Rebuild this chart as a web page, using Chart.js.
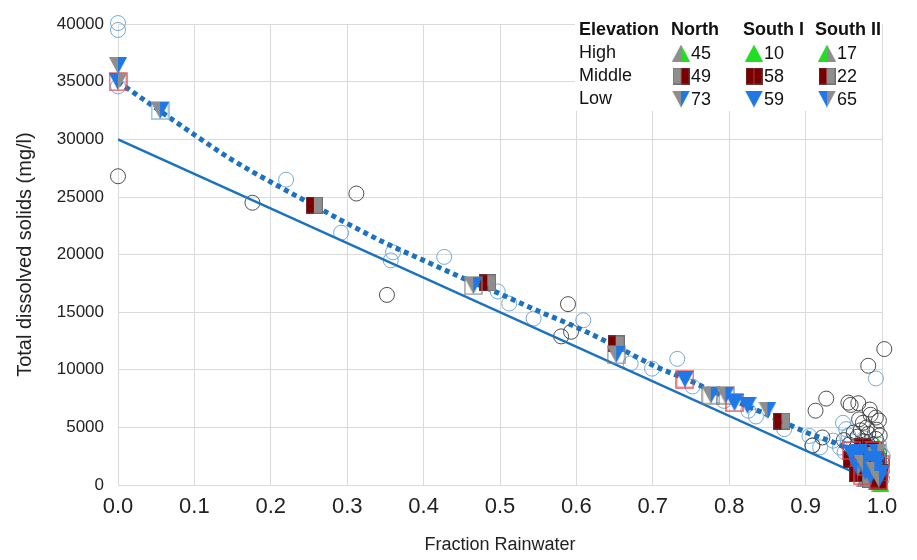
<!DOCTYPE html>
<html>
<head>
<meta charset="utf-8">
<script src="https://cdn.jsdelivr.net/npm/chart.js@4.4.1/dist/chart.umd.min.js"></script>
<style>
  html, body { margin: 0; padding: 0; background: #fff; }
</style>
</head>
<body>
<canvas id="grafico" width="917" height="560"></canvas>
<script>
// axis ticks
const xTicks = [0, 0.1, 0.2, 0.3, 0.4, 0.5, 0.6, 0.7, 0.8, 0.9, 1.0];
const yTicks = [0, 5000, 10000, 15000, 20000, 25000, 30000, 35000, 40000];

// mixing lines
const lineX = [0, 1];
const lineY = [30000, 0];
const curveX = [0, 0.05, 0.1, 0.15, 0.2, 0.25, 0.3, 0.35, 0.4, 0.45, 0.5, 0.55, 0.6, 0.65, 0.7, 0.75, 0.8, 0.85, 0.9, 0.95, 0.98, 1.0];
const curveY = [35000, 32700, 30400, 28200, 26300, 24500, 22700, 21000, 19500, 18000, 16600, 15100, 13700, 12100, 10400, 9000, 7500, 6100, 4600, 3300, 2000, 300];

// open circles
const blueCircleX = [0.0, 0.0, 0.0, 0.22, 0.292, 0.357, 0.36, 0.427, 0.497, 0.512, 0.544, 0.609, 0.671, 0.699, 0.732, 0.752, 0.793, 0.825, 0.835, 0.872, 0.905, 0.909, 0.919, 0.936, 0.945, 0.949, 0.953, 0.951, 0.956, 0.96, 0.962, 0.966, 0.968, 0.971, 0.973, 0.975, 0.977, 0.979, 0.981, 0.983, 0.985, 0.987, 0.988, 0.99, 0.992, 0.992, 0.994, 0.995, 0.997, 0.998, 0.999, 1.0, 1.001, 0.986, 0.996];
const blueCircleY = [40100, 39500, 34600, 26500, 21900, 19500, 20200, 19800, 16800, 15750, 14450, 14300, 10550, 10100, 10950, 8550, 7300, 6450, 5950, 4850, 4250, 3450, 3270, 3850, 3250, 5400, 4850, 2850, 4300, 3800, 2600, 2150, 3450, 1750, 2900, 1450, 4050, 2400, 1100, 3300, 1900, 700, 2700, 1300, 400, 9250, 2100, 900, 3000, 250, 1600, 600, 2500, 3600, 3500];
const greyCircleX = [0.0, 0.176, 0.312, 0.352, 0.589, 0.58, 0.593, 1.003, 0.982, 0.927, 0.913, 0.956, 0.959, 0.969, 0.984, 0.985, 0.992, 0.996, 0.909, 0.922, 0.957, 0.963, 0.968, 0.972, 0.976, 0.979, 0.982, 0.985, 0.988, 0.99, 0.992, 0.994, 0.996, 0.998, 1.0, 0.975, 0.97, 0.98, 0.95, 0.993, 0.997];
const greyCircleY = [26800, 24500, 25300, 16500, 15700, 12900, 13300, 11800, 10350, 7500, 6450, 7150, 6950, 7100, 6550, 6100, 5850, 5600, 3420, 4130, 3500, 4550, 4200, 4750, 3800, 3200, 4450, 2600, 3500, 2000, 4000, 1400, 2800, 700, 1900, 5400, 5700, 5000, 3900, 4800, 4300];

// samples by region and elevation
const northHighX = [0.985, 0.993, 0.978];
const northHighY = [1200, 300, 600];
const southIHighX = [0.995, 0.998];
const southIHighY = [3300, 150];
const southIIHighX = [0.99];
const southIIHighY = [900];
const northMidX = [0.975, 0.99, 0.985];
const northMidY = [2200, 1000, 500];
const southIMidX = [0.965, 0.97, 0.978, 0.982, 0.986, 0.99, 0.993, 0.996, 0.997, 0.975, 0.96, 0.968, 0.985, 0.992];
const southIMidY = [2600, 1800, 2900, 1400, 2300, 600, 1700, 300, 1100, 3300, 2200, 1000, 3100, 2600];
const southIIMidX = [0.257, 0.484, 0.652, 0.869, 0.98, 0.995];
const southIIMidY = [24300, 17550, 12250, 5550, 2400, 2000];
const northLowX = [0.0, 0.055, 0.465, 0.652, 0.776, 0.795, 0.85, 0.975, 0.99, 0.996];
const northLowY = [36400, 32500, 17300, 11300, 7800, 7800, 6500, 1900, 1300, 500];
const southILowX = [0.742, 0.807, 0.824, 0.97, 0.985, 0.99, 0.998, 0.978, 0.993, 0.96];
const southILowY = [9200, 7150, 6900, 2800, 800, 2200, 1000, 1200, 1900, 2700];
const southIILowX = [0.0, 0.968, 0.982, 0.994];
const southIILowY = [35000, 1500, 2600, 2800];

// outlined squares
const redBoxX = [0.0, 0.742, 0.807, 0.96, 0.97, 0.98, 0.99, 0.995, 0.975, 0.998];
const redBoxY = [35000, 9200, 7150, 3000, 2400, 1600, 3000, 400, 800, 1800];
const blueBoxX = [0.055];
const blueBoxY = [32500];
const greyBoxX = [0.465, 0.652, 0.776, 0.795];
const greyBoxY = [17300, 11300, 7800, 7800];

// legend table
const legendRows = ['High', 'Middle', 'Low'];
const legendCols = ['North', 'South I', 'South II'];
const northCounts = [45, 49, 73];
const southICounts = [10, 58, 59];
const southIICounts = [17, 22, 65];

const GREY = '#8e8e8e';
const GREEN = '#22dd22';
const DRED = '#7a0000';
const BLUE = '#1f78e6';
const LINE = '#1a72c0';
const FONT = '"Liberation Sans", Arial, sans-serif';

function pts(xs, ys) {
    return xs.map((x, i) => ({ x: x, y: ys[i] }));
}

// draw a split marker into its own small canvas
function marker(shape, left, right) {
    const w = shape === 'square' ? 17 : 18;
    const h = 17;
    const c = document.createElement('canvas');
    c.width = w; c.height = h;
    const g = c.getContext('2d');
    const m = w / 2;
    if (shape === 'up') {
        g.fillStyle = left;
        g.beginPath(); g.moveTo(0, h); g.lineTo(m, 0); g.lineTo(m, h); g.closePath(); g.fill();
        g.fillStyle = right;
        g.beginPath(); g.moveTo(m, 0); g.lineTo(w, h); g.lineTo(m, h); g.closePath(); g.fill();
    } else if (shape === 'down') {
        g.fillStyle = left;
        g.beginPath(); g.moveTo(0, 0); g.lineTo(m, 0); g.lineTo(m, h); g.closePath(); g.fill();
        g.fillStyle = right;
        g.beginPath(); g.moveTo(m, 0); g.lineTo(w, 0); g.lineTo(m, h); g.closePath(); g.fill();
    } else {
        g.fillStyle = left;
        g.fillRect(0, 0, m, h);
        g.fillStyle = right;
        g.fillRect(m, 0, w - m, h);
        g.strokeStyle = 'rgba(90,90,90,0.6)';
        g.lineWidth = 1;
        g.strokeRect(0.5, 0.5, w - 1, h - 1);
    }
    return c;
}

function box(color) {
    const c = document.createElement('canvas');
    c.width = 19; c.height = 19;
    const g = c.getContext('2d');
    g.strokeStyle = color;
    g.lineWidth = 1.5;
    g.strokeRect(1, 1, 17, 17);
    return c;
}

const icons = {
    northHigh: marker('up', GREY, GREEN),
    southIHigh: marker('up', GREEN, GREEN),
    southIIHigh: marker('up', GREEN, GREY),
    northMid: marker('square', GREY, DRED),
    southIMid: marker('square', DRED, DRED),
    southIIMid: marker('square', DRED, GREY),
    northLow: marker('down', GREY, BLUE),
    southILow: marker('down', BLUE, BLUE),
    southIILow: marker('down', BLUE, GREY)
};

function markerSet(label, xs, ys, img) {
    return { type: 'scatter', label: label, data: pts(xs, ys), pointStyle: img, clip: false };
}

const legendTable = {
    id: 'legendTable',
    afterDatasetsDraw(chart) {
        const ctx = chart.ctx;
        ctx.save();
        ctx.fillStyle = '#fff';
        ctx.fillRect(575, 18, 307, 93);
        ctx.fillStyle = '#111';
        ctx.textBaseline = 'middle';
        ctx.textAlign = 'left';
        ctx.font = 'bold 18px ' + FONT;
        ctx.fillText('Elevation', 579, 30);
        const colX = [671, 743, 815];
        legendCols.forEach((t, i) => ctx.fillText(t, colX[i], 30));

        ctx.font = '18px ' + FONT;
        const rowY = [53, 76, 99];
        const iconX = [681, 754, 827];
        const grid = [
            [icons.northHigh, icons.southIHigh, icons.southIIHigh],
            [icons.northMid, icons.southIMid, icons.southIIMid],
            [icons.northLow, icons.southILow, icons.southIILow]
        ];
        const counts = [northCounts, southICounts, southIICounts];
        legendRows.forEach((r, j) => {
            ctx.fillStyle = '#111';
            ctx.fillText(r, 579, rowY[j]);
            for (let i = 0; i < 3; i++) {
                const img = grid[j][i];
                ctx.drawImage(img, iconX[i] - img.width / 2, rowY[j] - img.height / 2);
                ctx.fillStyle = '#111';
                ctx.fillText(String(counts[i][j]), iconX[i] + 10, rowY[j] + 1);
            }
        });
        ctx.restore();
    }
};

new Chart(document.getElementById('grafico'), {
    type: 'scatter',
    data: {
        datasets: [
            markerSet('North Low', northLowX, northLowY, icons.northLow),
            markerSet('South I Low', southILowX, southILowY, icons.southILow),
            markerSet('South II Low', southIILowX, southIILowY, icons.southIILow),
            markerSet('red box', redBoxX, redBoxY, box('rgba(230,60,70,0.85)')),
            markerSet('blue box', blueBoxX, blueBoxY, box('rgba(120,175,215,0.9)')),
            markerSet('grey box', greyBoxX, greyBoxY, box('rgba(130,130,130,0.8)')),
            markerSet('North Middle', northMidX, northMidY, icons.northMid),
            markerSet('South I Middle', southIMidX, southIMidY, icons.southIMid),
            markerSet('South II Middle', southIIMidX, southIIMidY, icons.southIIMid),
            markerSet('North High', northHighX, northHighY, icons.northHigh),
            markerSet('South I High', southIHighX, southIHighY, icons.southIHigh),
            markerSet('South II High', southIIHighX, southIIHighY, icons.southIIHigh),
            {
                type: 'line', label: 'curve', data: pts(curveX, curveY),
                borderColor: LINE, borderWidth: 5, borderDash: [5, 4], borderCapStyle: 'butt',
                pointRadius: 0, tension: 0.4, cubicInterpolationMode: 'monotone', fill: false
            },
            {
                type: 'line', label: 'line', data: pts(lineX, lineY),
                borderColor: LINE, borderWidth: 2.5, pointRadius: 0, fill: false
            },
            {
                type: 'scatter', label: 'grey circles', data: pts(greyCircleX, greyCircleY),
                pointStyle: 'circle', pointRadius: 7.5, borderWidth: 1,
                borderColor: 'rgba(60,60,60,0.9)', backgroundColor: 'rgba(0,0,0,0)', clip: false
            },
            {
                type: 'scatter', label: 'blue circles', data: pts(blueCircleX, blueCircleY),
                pointStyle: 'circle', pointRadius: 7.5, borderWidth: 1,
                borderColor: 'rgba(110,165,210,0.95)', backgroundColor: 'rgba(0,0,0,0)', clip: false
            }
        ]
    },
    options: {
        responsive: false,
        animation: false,
        events: [],
        layout: { padding: { top: 17, right: 35, left: 0, bottom: 0 } },
        plugins: { legend: { display: false }, tooltip: { enabled: false } },
        scales: {
            x: {
                type: 'linear', min: 0, max: 1,
                afterBuildTicks: s => { s.ticks = xTicks.map(v => ({ value: v })); },
                afterFit: s => { s.height = 75; },
                ticks: {
                    padding: 9, color: '#222',
                    font: { family: FONT, size: 22 },
                    callback: v => Number(v).toFixed(1)
                },
                grid: { color: '#dadada', drawTicks: false },
                border: { display: false },
                title: {
                    display: true, text: 'Fraction Rainwater', color: '#222',
                    font: { family: FONT, size: 18 },
                    padding: { top: 0, bottom: 4 }
                }
            },
            y: {
                min: 0, max: 40000,
                afterBuildTicks: s => { s.ticks = yTicks.map(v => ({ value: v })); },
                afterFit: s => { s.width = 118; },
                ticks: {
                    padding: 14, color: '#222',
                    font: { family: FONT, size: 17 },
                    callback: v => String(v)
                },
                grid: { color: '#dadada', drawTicks: false },
                border: { display: false },
                title: {
                    display: true, text: 'Total dissolved solids (mg/l)', color: '#222',
                    font: { family: FONT, size: 20 },
                    padding: { top: 13, bottom: 0 }
                }
            }
        }
    },
    plugins: [legendTable]
});
</script>
</body>
</html>
